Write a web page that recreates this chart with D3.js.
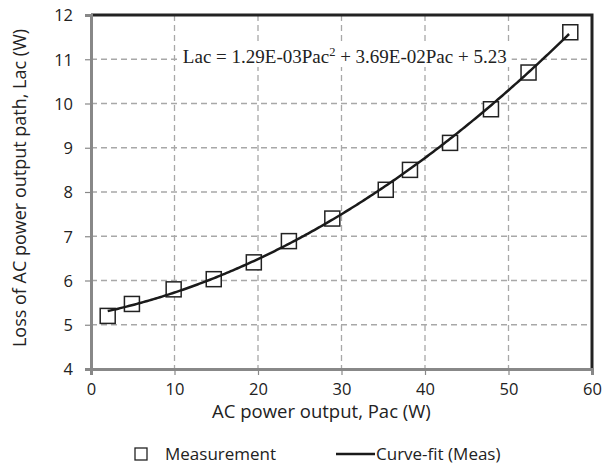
<!DOCTYPE html>
<html>
<head>
<meta charset="utf-8">
<script src="https://cdn.jsdelivr.net/npm/d3@7"></script>
<style>
  body { margin: 0; background: #fff; }
  text { font-family: "Open Sans", "Noto Sans", sans-serif; fill: #222; }
</style>
</head>
<body>
<div class="chart"></div>
<script>
// measured points (Pac, Lac)
var pacValues = [2.0, 4.9, 9.9, 14.7, 19.5, 23.7, 28.9, 35.3, 38.2, 43.0, 47.9, 52.4, 57.4];
var lacValues = [5.20, 5.47, 5.80, 6.03, 6.41, 6.89, 7.40, 8.05, 8.50, 9.11, 9.87, 10.70, 11.61];
// curve-fit coefficients: Lac = a*Pac^2 + b*Pac + c
var fitCoef = [1.29e-3, 3.69e-2, 5.23];
var xTicks = [0, 10, 20, 30, 40, 50, 60];
var yTicks = [4, 5, 6, 7, 8, 9, 10, 11, 12];

var svgWidth = 603, svgHeight = 469;
var margin = { top: 15, right: 11, bottom: 100, left: 91 };
var width = svgWidth - margin.left - margin.right;
var height = svgHeight - margin.top - margin.bottom;

var svg = d3.select(".chart").append("svg")
  .attr("width", svgWidth)
  .attr("height", svgHeight);

var chartGroup = svg.append("g")
  .attr("transform", `translate(${margin.left}, ${margin.top})`);

var xScale = d3.scaleLinear().domain([0, 60]).range([0, width]);
var yScale = d3.scaleLinear().domain([4, 12]).range([height, 0]);

// grid
chartGroup.append("g").selectAll("line")
  .data(xTicks.slice(1, -1))
  .enter().append("line")
  .attr("x1", d => xScale(d)).attr("x2", d => xScale(d))
  .attr("y1", 0).attr("y2", height)
  .attr("stroke", "#a8a8a8").attr("stroke-width", 1.3)
  .attr("stroke-dasharray", "6,4");

chartGroup.append("g").selectAll("line")
  .data(yTicks.slice(1, -1))
  .enter().append("line")
  .attr("x1", 0).attr("x2", width)
  .attr("y1", d => yScale(d)).attr("y2", d => yScale(d))
  .attr("stroke", "#a8a8a8").attr("stroke-width", 1.3)
  .attr("stroke-dasharray", "6,4");

// top & right frame
chartGroup.append("path")
  .attr("d", `M0,0H${width}V${height}`)
  .attr("fill", "none").attr("stroke", "#222").attr("stroke-width", 3);

// axes
var xAxis = d3.axisBottom(xScale).tickValues(xTicks).tickSize(6).tickPadding(8);
var yAxis = d3.axisLeft(yScale).tickValues(yTicks).tickSize(6).tickPadding(12);

var gx = chartGroup.append("g")
  .attr("transform", `translate(0, ${height})`)
  .call(xAxis);
var gy = chartGroup.append("g").call(yAxis);

[gx, gy].forEach(function(g) {
  g.select(".domain").attr("stroke", "#888").attr("stroke-width", 3);
  g.selectAll(".tick line").attr("stroke", "#888").attr("stroke-width", 1.2);
  g.selectAll(".tick text")
    .style("font-family", "Open Sans, sans-serif")
    .style("font-size", "16.5px").attr("fill", "#222");
});
gy.selectAll(".tick text").attr("dy", "0.35em");

// axis titles
chartGroup.append("text")
  .attr("x", xScale(27.6))
  .attr("y", height + 49)
  .attr("text-anchor", "middle")
  .style("font-size", "18.5px")
  .text("AC power output, Pac (W)");

chartGroup.append("text")
  .attr("transform", `translate(${-65}, ${height / 2 - 4}) rotate(-90)`)
  .attr("text-anchor", "middle")
  .style("font-size", "18px")
  .text("Loss of AC power output path, Lac (W)");

// curve-fit line
var fitData = d3.range(pacValues[0], pacValues[pacValues.length - 1] - 0.1, 0.25).map(function(p) {
  return { x: p, y: fitCoef[0] * p * p + fitCoef[1] * p + fitCoef[2] };
});
var line = d3.line().x(d => xScale(d.x)).y(d => yScale(d.y));

// equation (white box hides grid behind it)
var eqBox = chartGroup.append("rect").attr("fill", "#fff");
var eq = chartGroup.append("text")
  .attr("x", xScale(11.0))
  .attr("y", 48)
  .style("font-family", "Liberation Serif, Times New Roman, serif")
  .style("font-size", "19px");
eq.append("tspan").text("Lac = 1.29E-03Pac");
eq.append("tspan").attr("dy", -7).style("font-size", "12.5px").text("2");
eq.append("tspan").attr("dy", 7).text(" + 3.69E-02Pac + 5.23");
var bb = eq.node().getBBox();
eqBox.attr("x", bb.x - 5).attr("y", bb.y).attr("width", bb.width + 10).attr("height", bb.height);

// measurement squares
var sq = 15;
chartGroup.selectAll("rect.pt")
  .data(pacValues)
  .enter().append("rect")
  .attr("class", "pt")
  .attr("x", d => xScale(d) - sq / 2)
  .attr("y", (d, i) => yScale(lacValues[i]) - sq / 2)
  .attr("width", sq).attr("height", sq)
  .attr("fill", "#fff")
  .attr("stroke", "#222").attr("stroke-width", 1.5);

chartGroup.append("path")
  .datum(fitData)
  .attr("d", line)
  .attr("fill", "none")
  .attr("stroke", "#1a1a1a")
  .attr("stroke-width", 2.5);

// legend
var legend = svg.append("g").attr("transform", "translate(0, 454)");
legend.append("rect")
  .attr("x", 135).attr("y", -6).attr("width", 12).attr("height", 12)
  .attr("fill", "#fff").attr("stroke", "#222").attr("stroke-width", 1.3);
legend.append("text").attr("x", 165).attr("y", 0).attr("dy", "0.35em")
  .style("font-size", "17px").text("Measurement");
legend.append("line")
  .attr("x1", 336).attr("x2", 375).attr("y1", 0).attr("y2", 0)
  .attr("stroke", "#1a1a1a").attr("stroke-width", 2.5);
legend.append("text").attr("x", 376).attr("y", 0).attr("dy", "0.35em")
  .style("font-size", "17px").text("Curve-fit (Meas)");
</script>
</body>
</html>
